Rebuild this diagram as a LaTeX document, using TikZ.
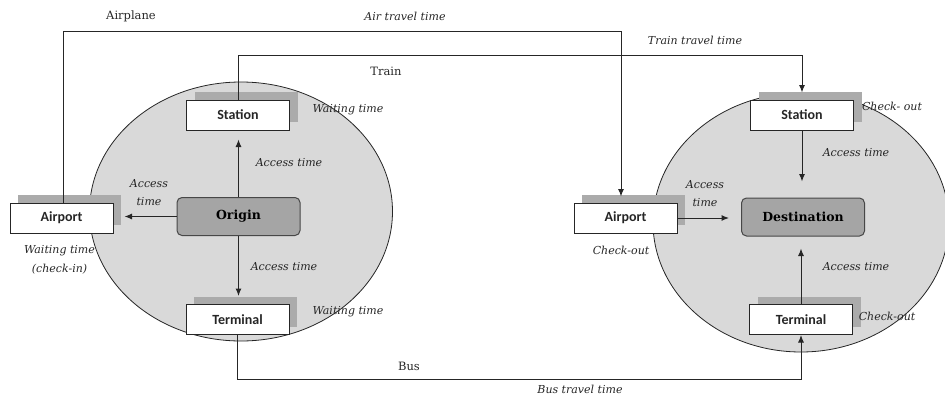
\documentclass[tikz,border=0pt]{standalone}
\usepackage{fontspec}
\setmainfont{DejaVu Serif}
\newfontfamily\boxfont{Carlito}
\usetikzlibrary{arrows.meta,shadows}
\definecolor{ellgray}{HTML}{D9D9D9}
\definecolor{shgray}{HTML}{ABABAB}
\definecolor{cengray}{HTML}{A5A5A5}
\definecolor{ink}{HTML}{262626}
\tikzset{
  stopbox/.style={draw=ink, line width=1pt, fill=white, minimum width=103pt, minimum height=30pt,
    inner sep=0pt, font=\boxfont\bfseries\fontsize{14}{16}\selectfont, text=ink,
    general shadow={fill=shgray, shadow xshift=8pt, shadow yshift=8pt}},
  centre/.style={draw=ink!85, line width=1pt, fill=cengray, rounded corners=5pt, minimum width=123pt,
    minimum height=38pt, inner sep=0pt, font=\bfseries\fontsize{12.5}{15}\selectfont, text=black},
  region/.style={draw=ink, line width=0.8pt, fill=ellgray},
  conn/.style={draw=ink, line width=1pt, -{Latex[length=7.5pt,width=6pt]}},
  lab/.style={font=\itshape\fontsize{11}{13}\selectfont, text=ink, inner sep=0pt, align=center},
  mode/.style={font=\fontsize{11.5}{13}\selectfont, text=ink, inner sep=0pt}
}
\begin{document}
\begin{tikzpicture}[x=1pt,y=-1pt]
\useasboundingbox (0,0) rectangle (945,396);
% regions
\path[region] (241,211.5) ellipse [x radius=151.5pt, y radius=129.5pt];
\path[region] (801,222.5) ellipse [x radius=148pt, y radius=129.5pt];
% origin side
\node[stopbox] (ost) at (238,115) {Station};
\node[stopbox] (lair) at (61.5,218) {Airport};
\node[stopbox] (oterm) at (237.5,319.5) {Terminal};
\node[centre] (orig) at (238.5,216.5) {Origin};
% destination side
\node[stopbox] (dst) at (802,115) {Station};
\node[stopbox] (rair) at (625.5,218) {Airport};
\node[stopbox] (dterm) at (801,319.5) {Terminal};
\node[centre] (dest) at (803,217) {Destination};
% access arrows
\draw[conn, shorten >=9pt] (orig.north) -- (orig.north |- ost.south);
\draw[conn, shorten >=11pt] (orig.west) -- (lair.east |- orig.west);
\draw[conn, shorten >=8pt] (orig.south) -- (orig.south |- oterm.north);
\draw[conn, shorten >=16pt] (dst.south) -- (dst.south |- dest.north);
\draw[conn, shorten >=12pt] (rair.east) -- (rair.east -| dest.west);
\draw[conn, shorten >=12pt] (dterm.north) -- (dterm.north |- dest.south);
% travel links
\draw[conn] ([xshift=1.5pt]lair.north) -- ++(0,-171) -| ([xshift=-4.5pt,yshift=6pt]rair.north);
\draw[conn] (ost.north) -- ++(0,-44) -| ([yshift=7pt]dst.north);
\draw[conn] (oterm.south) -- ++(0,44) -| (dterm.south);
% mode labels
\node[mode] (tairplane) at (131,16) {Airplane};
\node[mode] (ttrain) at (386,71) {Train};
\node[mode] (tbus) at (409,366) {Bus};
% time labels
\node[lab] (tair) at (405,16) {Air travel time};
\node[lab] (ttraint) at (695,40) {Train travel time};
\node[lab] (tbust) at (580,389) {Bus travel time};
\node[lab] (w1) at (348,110) {Waiting time};
\node[lab] (a1) at (289,163) {Access time};
\node[lab] (a2) at (149,192.5) {Access\\[5pt]time};
\node[lab] (w2) at (59.5,260) {Waiting time\\[6pt](check-in)};
\node[lab] (a3) at (284,267) {Access time};
\node[lab] (w3) at (348,312) {Waiting time};
\node[lab] (c1) at (892,106) {Check- out};
\node[lab] (a4) at (856,153) {Access time};
\node[lab] (a5) at (705,193.5) {Access\\[5pt]time};
\node[lab] (c2) at (621,250) {Check-out};
\node[lab] (a6) at (856,267) {Access time};
\node[lab] (c3) at (887,316) {Check-out};
\end{tikzpicture}
\end{document}
